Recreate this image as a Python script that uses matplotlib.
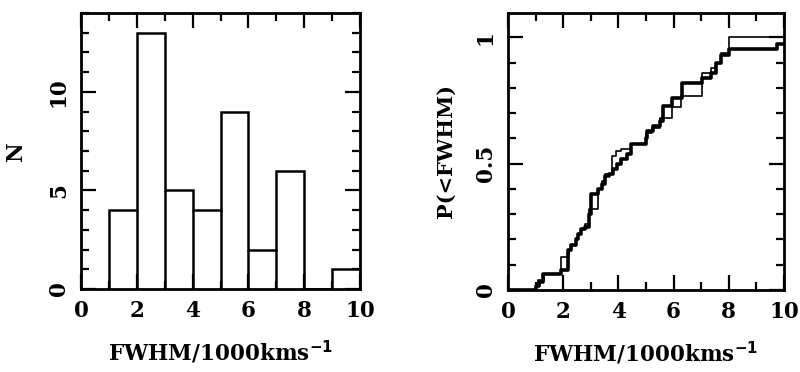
import matplotlib
matplotlib.use("Agg")
import matplotlib.pyplot as plt
from matplotlib.ticker import MultipleLocator
import numpy as np

# Histogram data
bin_edges = [1, 2, 3, 4, 5, 6, 7, 8, 9, 10]
counts = [4, 13, 5, 4, 9, 2, 6, 0, 1]

# Cumulative distributions (step positions and levels after each step)
thick_x = [0.0, 1.00, 1.13, 1.28, 1.92, 2.17, 2.30, 2.45, 2.55, 2.65, 2.80, 2.95, 3.00,
           3.25, 3.40, 3.50, 3.65, 3.80, 3.95, 4.10, 4.30, 4.45, 5.00, 5.05, 5.25, 5.50,
           5.60, 5.95, 6.30, 7.03, 7.35, 7.55, 7.70, 8.00, 9.75, 10.0]
thick_y = [0.0, 0.017, 0.03, 0.063, 0.08, 0.16, 0.18, 0.20, 0.22, 0.24, 0.25, 0.30, 0.38,
           0.40, 0.42, 0.45, 0.46, 0.48, 0.50, 0.52, 0.54, 0.58, 0.60, 0.63, 0.65, 0.67,
           0.73, 0.76, 0.82, 0.84, 0.86, 0.90, 0.93, 0.954, 0.976, 0.976]
thin_x = [0.0, 1.00, 1.10, 1.30, 1.92, 2.20, 2.30, 2.45, 2.55, 2.65, 2.80, 2.95, 3.25,
          3.40, 3.50, 3.75, 3.90, 4.10, 4.45, 5.00, 5.20, 5.50, 5.95, 6.25, 7.03, 7.35,
          7.55, 7.70, 8.00, 10.0]
thin_y = [0.0, 0.02, 0.04, 0.065, 0.13, 0.16, 0.18, 0.20, 0.22, 0.24, 0.26, 0.32, 0.40,
          0.43, 0.46, 0.53, 0.55, 0.56, 0.58, 0.62, 0.64, 0.68, 0.725, 0.77, 0.86, 0.88,
          0.90, 0.94, 1.0, 1.0]

plt.rcParams['font.family'] = ['DejaVu Serif']
plt.rcParams['font.weight'] = 'bold'
plt.rcParams['axes.labelweight'] = 'bold'

fig = plt.figure(figsize=(8, 3.72), dpi=100)
ax1 = fig.add_axes([81/800, 1-289/372, 279/800, 276/372])
ax2 = fig.add_axes([508/800, 1-290/372, 276/800, 277/372])

def style(ax):
    for s in ax.spines.values():
        s.set_linewidth(2)
    ax.tick_params(which='both', direction='in', top=True, right=True, width=1.6,
                   labelsize=15.5)
    ax.tick_params(which='major', length=11, pad=8)
    ax.tick_params(which='minor', length=5.5)
    for lab in ax.get_yticklabels():
        lab.set_rotation(90)
        lab.set_va('center')

# Left: histogram
ax1.stairs(counts, bin_edges, color='black', linewidth=1.8, fill=False)
ax1.vlines(bin_edges[1:-1], 0, np.minimum(counts[:-1], counts[1:]), color='black', linewidth=1.8)
ax1.set_xlim(0, 10)
ax1.set_ylim(0, 14)
ax1.xaxis.set_minor_locator(MultipleLocator(1))
ax1.yaxis.set_minor_locator(MultipleLocator(1))
ax1.set_xticks([0, 2, 4, 6, 8, 10])
ax1.set_yticks([0, 5, 10])
style(ax1)
ax1.set_xlabel(r'FWHM/1000kms$^{\mathbf{-1}}$', fontsize=15.5, labelpad=12)
ax1.set_ylabel('N', fontsize=15.5, labelpad=15)

# Right: cumulative distributions
ax2.step(thin_x, thin_y, where='post', color='black', linewidth=1.2)
ax2.step(thick_x, thick_y, where='post', color='black', linewidth=2.6)
ax2.set_xlim(0, 10)
ax2.set_ylim(0, 1.097)
ax2.set_xticks([0, 2, 4, 6, 8, 10])
ax2.xaxis.set_minor_locator(MultipleLocator(1))
ax2.set_yticks([0, 0.5, 1])
ax2.set_yticklabels(['0', '0.5', '1'])
ax2.yaxis.set_minor_locator(MultipleLocator(0.1))
style(ax2)
ax2.set_xlabel(r'FWHM/1000kms$^{\mathbf{-1}}$', fontsize=15.5, labelpad=12)
ax2.set_ylabel('P(<FWHM)', fontsize=15, labelpad=14)

fig.savefig('out.png', dpi=100)
